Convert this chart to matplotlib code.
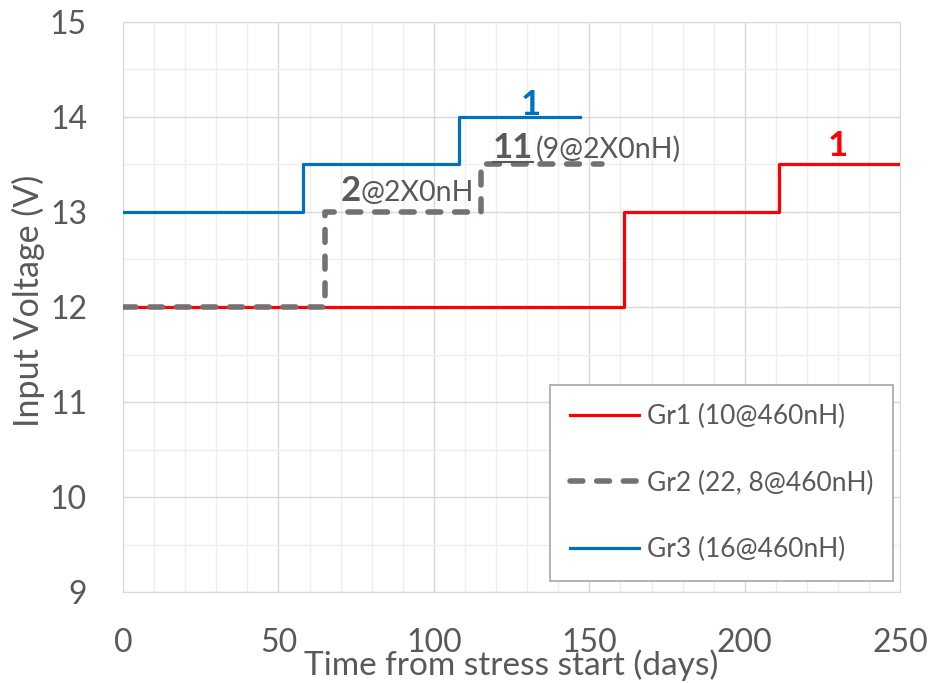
import matplotlib
matplotlib.use("Agg")
import matplotlib.pyplot as plt
from matplotlib.lines import Line2D
from matplotlib.ticker import MultipleLocator

# step series: x = day of each level start (last point = end), y = level
red_x = [0, 161, 211, 250]
red_y = [12, 13, 13.5, 13.5]
gray_x = [0, 65, 115, 154]
gray_y = [12, 13, 13.5, 13.5]
blue_x = [0, 58, 108, 147]
blue_y = [13, 13.5, 14, 14]

labels = ["Gr1 (10@460nH)", "Gr2 (22, 8@460nH)", "Gr3 (16@460nH)"]
xticks = [0, 50, 100, 150, 200, 250]
yticks = [9, 10, 11, 12, 13, 14, 15]

RED, GRAY, BLUE, TXT = "#ff0000", "#767171", "#0070c0", "#595959"
plt.rcParams.update({"font.family": ["Lato", "DejaVu Sans"]})

fig = plt.figure(figsize=(9.32, 6.83), dpi=100)
ax = fig.add_axes([0.132, 0.133, 0.834, 0.835])

ax.step(red_x, red_y, where="post", color=RED, lw=2.3, label=labels[0], zorder=3)
ax.step(gray_x, gray_y, where="post", color=GRAY, lw=4.0, ls=(0, (2.3, 2.5)),
        dash_capstyle="round", label=labels[1], zorder=4)
ax.step(blue_x, blue_y, where="post", color=BLUE, lw=2.3, label=labels[2], zorder=3)

ax.set_xlim(0, 250); ax.set_ylim(9, 15)
ax.set_xticks(xticks); ax.set_yticks(yticks)
ax.xaxis.set_minor_locator(MultipleLocator(10))
ax.yaxis.set_minor_locator(MultipleLocator(0.5))
ax.grid(True, which="major", color="#d9d9d9", lw=1.0, zorder=0)
ax.grid(True, which="minor", color="#eeeeee", lw=1.0, zorder=0)
ax.set_axisbelow(True)
ax.tick_params(which="both", length=0, colors=TXT, labelsize=23)
ax.tick_params(axis="x", pad=26)
ax.tick_params(axis="y", pad=26)
for s in ax.spines.values():
    s.set_color("#d9d9d9")

ax.set_xlabel("Time from stress start (days)", fontsize=24, color=TXT)
ax.xaxis.set_label_coords(0.5, -0.1)
ax.set_ylabel("Input Voltage (V)", fontsize=24.5, color=TXT)
ax.yaxis.set_label_coords(-0.1, 0.51)

leg = ax.legend(loc="lower right", bbox_to_anchor=(0.990, 0.019), borderaxespad=0,
                fontsize=19, handlelength=2.6, labelspacing=1.56, borderpad=0.74,
                handletextpad=0.3, fancybox=False, edgecolor="#a6a6a6", framealpha=1)
for t in leg.get_texts():
    t.set_color(TXT)
leg.get_frame().set_linewidth(1.2)

# annotations
ax.text(76.5, 13.12, "2", fontsize=25, fontweight="bold", color=TXT, ha="right", va="baseline")
ax.text(76.5, 13.12, "@2X0nH", fontsize=20.5, color=TXT, ha="left", va="baseline")
t11 = ax.text(132, 13.57, "11", fontsize=25, fontweight="bold", color=TXT, ha="right", va="baseline")
ax.text(132.8, 13.57, "(9@2X0nH)", fontsize=20.5, color=TXT, ha="left", va="baseline")
ax.text(131, 14.02, "1", fontsize=25, fontweight="bold", color=BLUE, ha="center", va="baseline")
ax.text(230, 13.59, "1", fontsize=25, fontweight="bold", color=RED, ha="center", va="baseline")

# underline for the "11"
fig.canvas.draw()
bb = t11.get_window_extent()
ul_y = bb.y0 + 2
fig.add_artist(Line2D([bb.x0 / fig.bbox.width, bb.x1 / fig.bbox.width],
                      [ul_y / fig.bbox.height] * 2, color=TXT, lw=1.5))

fig.savefig("out.png", dpi=100)
